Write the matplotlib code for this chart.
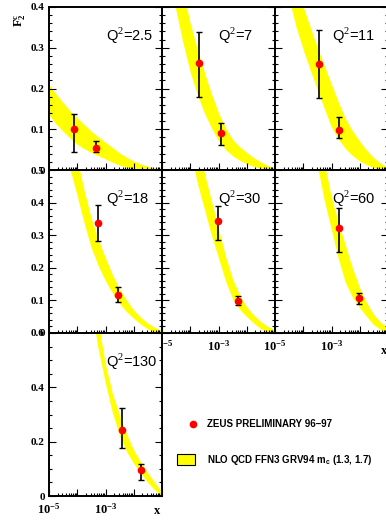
import matplotlib
matplotlib.use('Agg')
import matplotlib.pyplot as plt
import numpy as np
from matplotlib.patches import Rectangle
from matplotlib.ticker import MultipleLocator, LogLocator, NullFormatter

plt.rcParams['mathtext.fontset'] = 'custom'
plt.rcParams['mathtext.rm'] = 'Liberation Serif'
plt.rcParams['mathtext.bf'] = 'Liberation Serif:bold'
plt.rcParams['mathtext.sf'] = 'Liberation Sans:bold'

# --- data ---
q2_labels = ['2.5', '7', '11', '18', '30', '60', '130']

# ZEUS preliminary points: x, F2c, lower / upper end of error bar
pt_x = [[7.5e-5, 4.7e-4], [2.1e-4, 1.25e-3], [3.5e-4, 1.9e-3], [5.6e-4, 2.7e-3],
        [9.6e-4, 5.0e-3], [1.9e-3, 9.3e-3], [3.7e-3, 1.8e-2]]
pt_y = [[0.100, 0.055], [0.262, 0.091], [0.259, 0.099], [0.336, 0.117],
        [0.343, 0.098], [0.323, 0.107], [0.242, 0.095]]
pt_lo = [[0.043, 0.045], [0.180, 0.062], [0.177, 0.079], [0.283, 0.094],
         [0.286, 0.085], [0.250, 0.089], [0.176, 0.059]]
pt_hi = [[0.137, 0.070], [0.338, 0.115], [0.343, 0.129], [0.392, 0.140],
         [0.389, 0.112], [0.384, 0.124], [0.323, 0.117]]

# NLO QCD band (m_c = 1.3 .. 1.7), read at quarter-decade steps of log10(x)
band_logx = [-5, -4.75, -4.5, -4.25, -4, -3.75, -3.5, -3.25, -3,
             -2.75, -2.5, -2.25, -2, -1.75, -1.5, -1.25, -1]
band_lo = [
    [0.135, 0.113, 0.095, 0.078, 0.063, 0.052, 0.043, 0.035, 0.027,
     0.019, 0.012, 0.007, 0.003, 0.001, 0, 0, 0],
    [0.55, 0.465, 0.39, 0.31, 0.24, 0.185, 0.14, 0.103, 0.072,
     0.05, 0.035, 0.024, 0.015, 0.009, 0.004, 0.001, 0],
    [0.62, 0.51, 0.42, 0.35, 0.295, 0.245, 0.197, 0.15, 0.105,
     0.075, 0.052, 0.035, 0.022, 0.013, 0.006, 0.002, 0],
    [0.85, 0.72, 0.60, 0.50, 0.42, 0.335, 0.26, 0.205, 0.16,
     0.122, 0.09, 0.065, 0.045, 0.027, 0.012, 0.004, 0],
    [1.2, 0.99, 0.80, 0.67, 0.56, 0.46, 0.38, 0.30, 0.23,
     0.16, 0.105, 0.072, 0.05, 0.03, 0.013, 0.004, 0],
    [2.0, 1.62, 1.3, 1.03, 0.80, 0.645, 0.52, 0.41, 0.32,
     0.23, 0.155, 0.11, 0.078, 0.05, 0.025, 0.009, 0],
    [3.0, 2.45, 2.0, 1.57, 1.2, 0.92, 0.70, 0.545, 0.42,
     0.31, 0.225, 0.165, 0.12, 0.085, 0.05, 0.022, 0],
]
band_hi = [
    [0.21, 0.186, 0.165, 0.145, 0.128, 0.111, 0.095, 0.081, 0.068,
     0.055, 0.042, 0.031, 0.022, 0.015, 0.009, 0.005, 0.002],
    [0.70, 0.605, 0.52, 0.435, 0.36, 0.295, 0.24, 0.187, 0.14,
     0.103, 0.075, 0.057, 0.043, 0.03, 0.02, 0.011, 0.005],
    [0.80, 0.67, 0.56, 0.47, 0.40, 0.35, 0.30, 0.255, 0.21,
     0.165, 0.125, 0.095, 0.07, 0.048, 0.03, 0.016, 0.006],
    [1.0, 0.87, 0.75, 0.635, 0.53, 0.435, 0.35, 0.285, 0.23,
     0.178, 0.135, 0.1, 0.07, 0.048, 0.03, 0.017, 0.008],
    [1.5, 1.24, 1.0, 0.83, 0.68, 0.575, 0.49, 0.405, 0.32,
     0.235, 0.165, 0.115, 0.08, 0.055, 0.035, 0.02, 0.01],
    [2.5, 2.07, 1.7, 1.35, 1.05, 0.83, 0.65, 0.525, 0.42,
     0.34, 0.27, 0.2, 0.14, 0.093, 0.057, 0.032, 0.015],
    [3.5, 2.9, 2.4, 1.93, 1.5, 1.15, 0.85, 0.645, 0.49,
     0.38, 0.30, 0.23, 0.17, 0.125, 0.085, 0.05, 0.015],
]

row_ymax = [0.4, 0.5, 0.6]
row_yticks = [[0, 0.1, 0.2, 0.3, 0.4], [0, 0.1, 0.2, 0.3, 0.4, 0.5], [0, 0.2, 0.4, 0.6]]
row_ylabels = [['0', '0.1', '0.2', '0.3', '0.4'], ['0', '0.1', '0.2', '0.3', '0.4', '0.5'],
               ['0', '0.2', '0.4', '0.6']]
row_yminor = [0.02, 0.02, 0.05]
xticks = [1e-5, 1e-4, 1e-3, 1e-2, 1e-1]
xticklabels = [r'$\mathbf{10^{-5}}$', '', r'$\mathbf{10^{-3}}$', '', '']

# panel grid position (row, col) for each Q2 bin
grid = [(0, 0), (0, 1), (0, 2), (1, 0), (1, 1), (1, 2), (2, 0)]

W, H = 386., 520.
col_left = [49, 162, 275]
row_top = [7, 170, 333]
pw, ph = 113, 163

fig = plt.figure(figsize=(3.86, 5.2), dpi=100)
band_x = 10.0 ** np.array(band_logx)

for i, (r, c) in enumerate(grid):
    ax = fig.add_axes([col_left[c] / W, 1 - (row_top[r] + ph) / H, pw / W, ph / H])
    ax.set_xscale('log')
    ax.set_xlim(1e-5, 1e-1)
    ax.set_ylim(0, row_ymax[r])

    ax.fill_between(band_x, band_lo[i], band_hi[i], color='#ffff00', lw=0)

    y = np.array(pt_y[i])
    yerr = [y - np.array(pt_lo[i]), np.array(pt_hi[i]) - y]
    ax.errorbar(pt_x[i], y, yerr=yerr, fmt='o', color='red', ms=4.5, mec='red',
                ecolor='black', elinewidth=1.2, capsize=2.2, capthick=1, zorder=3)

    ax.text(0.5, 0.825, 'Q$^{2}$=' + q2_labels[i], transform=ax.transAxes,
            fontfamily='Liberation Sans', fontsize=10.5, va='center', ha='left')

    for s in ax.spines.values():
        s.set_linewidth(1.4)

    ax.set_yticks(row_yticks[r])
    ax.set_yticklabels(row_ylabels[r], fontfamily='Liberation Serif',
                       fontweight='bold', fontsize=8)
    ax.yaxis.set_minor_locator(MultipleLocator(row_yminor[r]))
    ax.set_xticks(xticks)
    ax.set_xticklabels(xticklabels, fontsize=9)
    ax.xaxis.set_minor_locator(LogLocator(base=10, subs=range(2, 10), numticks=20))
    ax.xaxis.set_minor_formatter(NullFormatter())

    show_x = (r == 2) or (r == 1 and c > 0)
    ax.tick_params(which='both', direction='in', top=False, right=True, width=0.8,
                   labelleft=(c == 0), labelbottom=show_x)
    ax.tick_params(which='major', length=5, pad=3)
    ax.tick_params(which='minor', length=2.5)
    ax.tick_params(axis='x', which='major', pad=4)

fig.text(20 / W, 1 - 20 / H, r'$\mathbf{F_2^c}$', rotation=90, ha='center',
         va='center', fontsize=9)
fig.text(157 / W, 1 - 511 / H, 'x', fontfamily='Liberation Serif', fontweight='bold',
         fontsize=9, ha='center', va='center')
fig.text(384 / W, 1 - 351 / H, 'x', fontfamily='Liberation Serif', fontweight='bold',
         fontsize=9, ha='center', va='center')

# legend drawn by hand in pixel coords
lg = fig.add_axes([0, 0, 1, 1])
lg.set_xlim(0, W)
lg.set_ylim(H, 0)
lg.axis('off')
lg.plot([193], [424], 'o', color='red', ms=4.5)
lg.text(207, 424, 'ZEUS PRELIMINARY 96\u201397', fontfamily='Liberation Sans',
        fontweight='bold', fontsize=7, va='center')
lg.add_patch(Rectangle((177, 454), 18, 11, facecolor='#ffff00', edgecolor='black', lw=0.8))
lg.text(207, 460, r'NLO QCD FFN3 GRV94 m$_\mathsf{c}$ (1.3, 1.7)',
        fontfamily='Liberation Sans', fontweight='bold', fontsize=7, va='center')

fig.savefig('out.png', dpi=100)
